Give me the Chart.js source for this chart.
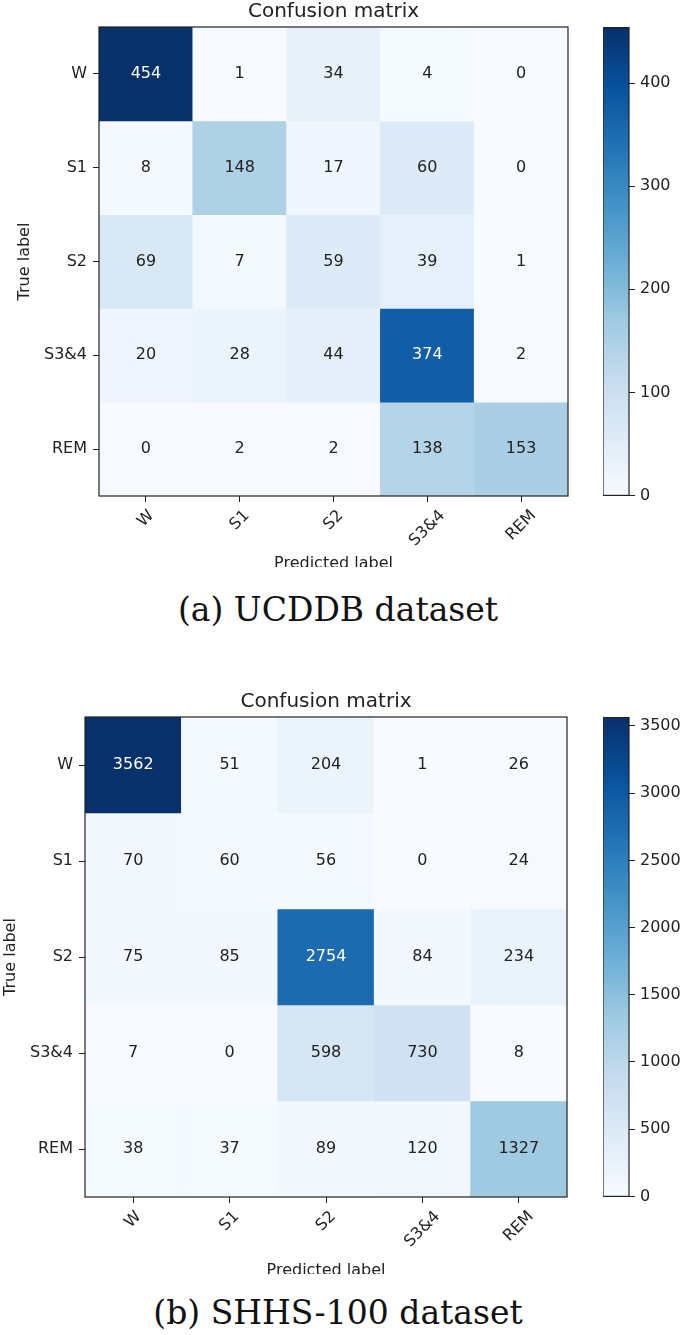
<!DOCTYPE html>
<html>
<head>
<meta charset="utf-8">
<title>Confusion matrices</title>
<script src="https://cdn.jsdelivr.net/npm/chart.js@4.4.1/dist/chart.umd.min.js"></script>
<style>
  body { margin: 0; background: #fff; width: 685px; height: 1335px; position: relative; overflow: hidden; }
  .wrap { position: absolute; overflow: hidden; }
  .bar { position: absolute; }
  canvas { display: block; }
  .cap { position: absolute; left: 0; width: 676px; text-align: center; font-family: 'DejaVu Serif'; font-size: 33px; line-height: 34px; color: #111; white-space: nowrap; }
</style>
</head>
<body>
<div class="wrap" style="left:0;top:0;width:600px;height:567px"><canvas id="cm1" width="600" height="600" style="width:600px;height:600px"></canvas></div>
<canvas class="bar" id="cb1" width="80" height="497" style="left:603px;top:13px;width:80px;height:497px"></canvas>
<div class="cap" style="top:593px">(a) UCDDB dataset</div>

<div class="wrap" style="left:0;top:690px;width:600px;height:584px"><canvas id="cm2" width="600" height="620" style="width:600px;height:620px"></canvas></div>
<canvas class="bar" id="cb2" width="80" height="508" style="left:603px;top:703px;width:80px;height:508px"></canvas>
<div class="cap" style="top:1296px">(b) SHHS-100 dataset</div>

<script>
// class names (rows = true label, columns = predicted label)
var rowLabels = ['W', 'S1', 'S2', 'S3&4', 'REM'];
var colLabels = ['W', 'S1', 'S2', 'S3&4', 'REM'];

// (a) UCDDB
var ucddbW   = [454, 1, 34, 4, 0];
var ucddbS1  = [8, 148, 17, 60, 0];
var ucddbS2  = [69, 7, 59, 39, 1];
var ucddbS34 = [20, 28, 44, 374, 2];
var ucddbREM = [0, 2, 2, 138, 153];
var ucddbTicks = [0, 100, 200, 300, 400];

// (b) SHHS-100
var shhsW   = [3562, 51, 204, 1, 26];
var shhsS1  = [70, 60, 56, 0, 24];
var shhsS2  = [75, 85, 2754, 84, 234];
var shhsS34 = [7, 0, 598, 730, 8];
var shhsREM = [38, 37, 89, 120, 1327];
var shhsTicks = [0, 500, 1000, 1500, 2000, 2500, 3000, 3500];

// matplotlib "Blues"
var blues = ['#f7fbff', '#deebf7', '#c6dbef', '#9ecae1', '#6baed6', '#4292c6', '#2171b5', '#08519c', '#08306b'];

var ink = '#222';
Chart.defaults.font.family = "'DejaVu Sans', sans-serif";
Chart.defaults.color = ink;

function hexRgb(h) {
  return [parseInt(h.substr(1, 2), 16), parseInt(h.substr(3, 2), 16), parseInt(h.substr(5, 2), 16)];
}

function bluesAt(t) {
  t = Math.max(0, Math.min(1, t));
  var p = t * 8;
  var i = Math.min(7, Math.floor(p));
  var f = p - i;
  var a = hexRgb(blues[i]), b = hexRgb(blues[i + 1]);
  var c = a.map(function(v, k) { return Math.round(v + (b[k] - v) * f); });
  return 'rgb(' + c.join(',') + ')';
}

// frame around the plot area (all four spines)
var framePlugin = {
  id: 'frame',
  afterDraw: function(chart) {
    var a = chart.chartArea, ctx = chart.ctx;
    ctx.save();
    ctx.strokeStyle = ink;
    ctx.lineWidth = 1.2;
    ctx.strokeRect(a.left, a.top, a.right - a.left, a.bottom - a.top);
    ctx.restore();
  }
};

function matrixChart(id, rows, o) {
  var max = 0;
  rows.forEach(function(r) { r.forEach(function(v) { if (v > max) max = v; }); });

  var datasets = rows.map(function(row, r) {
    return {
      data: row.map(function() { return [r - 0.5, r + 0.5]; }),
      counts: row,
      backgroundColor: row.map(function(v) { return bluesAt(v / max); }),
      grouped: false,
      barPercentage: 1,
      categoryPercentage: 1,
      borderWidth: 0
    };
  });

  // numbers inside cells + rotated x tick labels + title
  var cellPlugin = {
    id: 'cells',
    afterDatasetsDraw: function(chart) {
      var ctx = chart.ctx;
      ctx.save();
      ctx.font = "16px 'DejaVu Sans'";
      ctx.textAlign = 'center';
      ctx.textBaseline = 'middle';
      chart.data.datasets.forEach(function(ds, r) {
        chart.getDatasetMeta(r).data.forEach(function(el, c) {
          var v = ds.counts[c];
          ctx.fillStyle = v > max / 2 ? '#fff' : ink;
          ctx.fillText(String(v), el.x, (el.y + el.base) / 2);
        });
      });
      ctx.restore();
    },
    afterDraw: function(chart) {
      var ctx = chart.ctx, xs = chart.scales.x, a = chart.chartArea;
      ctx.save();
      ctx.font = "16px 'DejaVu Sans'";
      ctx.fillStyle = ink;
      ctx.textAlign = 'center';
      ctx.textBaseline = 'middle';
      colLabels.forEach(function(lab, i) {
        var x = xs.getPixelForTick(i);
        var w = ctx.measureText(lab).width;
        var cy = a.bottom + 12 + (w + 14.4) * Math.SQRT1_2 / 2;
        ctx.save();
        ctx.translate(x, cy);
        ctx.rotate(-Math.PI / 4);
        ctx.fillText(lab, 0, 0);
        ctx.restore();
      });
      ctx.font = "20px 'DejaVu Sans'";
      ctx.fillText('Confusion matrix', (a.left + a.right) / 2, o.titleY);
      ctx.restore();
    }
  };

  return new Chart(document.getElementById(id), {
    type: 'bar',
    data: { labels: colLabels, datasets: datasets },
    options: {
      responsive: false,
      animation: false,
      layout: { padding: { left: 0, right: o.right, top: o.top, bottom: 0 } },
      plugins: {
        legend: { display: false },
        tooltip: { enabled: false }
      },
      scales: {
        x: {
          type: 'category',
          offset: true,
          grid: { offset: false, drawOnChartArea: false, drawTicks: true, tickLength: 6, color: ink },
          border: { display: false },
          ticks: { display: false },
          title: { display: true, text: 'Predicted label', color: ink, font: { size: 16 }, padding: { top: 0, bottom: o.xTitlePad } },
          afterFit: function(s) { s.height = o.xHeight; }
        },
        y: {
          type: 'linear',
          min: -0.5,
          max: 4.5,
          reverse: true,
          afterBuildTicks: function(s) { s.ticks = rowLabels.map(function(_, i) { return { value: i }; }); },
          ticks: {
            padding: 6,
            autoSkip: false,
            color: ink,
            font: { size: 16 },
            callback: function(v) { return rowLabels[v]; }
          },
          grid: { drawOnChartArea: false, drawTicks: true, tickLength: 6, color: ink },
          border: { display: false },
          title: { display: true, text: 'True label', color: ink, font: { size: 16 }, padding: { top: o.yTitlePad, bottom: 0 } },
          afterFit: function(s) { s.width = o.yWidth; }
        }
      }
    },
    plugins: [cellPlugin, framePlugin]
  });
}

function colorBar(id, max, ticks) {
  return new Chart(document.getElementById(id), {
    type: 'bar',
    data: {
      labels: [''],
      datasets: [{
        data: [[0, max]],
        barPercentage: 1,
        categoryPercentage: 1,
        borderWidth: 0,
        backgroundColor: function(c) {
          var a = c.chart.chartArea;
          if (!a) return blues[0];
          var g = c.chart.ctx.createLinearGradient(0, a.bottom, 0, a.top);
          blues.forEach(function(col, i) { g.addColorStop(i / 8, col); });
          return g;
        }
      }]
    },
    options: {
      responsive: false,
      animation: false,
      layout: { padding: { top: 14, bottom: 14, left: 0, right: 0 } },
      plugins: { legend: { display: false }, tooltip: { enabled: false } },
      scales: {
        x: { display: false },
        y: {
          position: 'right',
          min: 0,
          max: max,
          afterBuildTicks: function(s) { s.ticks = ticks.map(function(v) { return { value: v }; }); },
          ticks: { padding: 5, color: ink, font: { size: 16 }, callback: function(v) { return String(v); } },
          grid: { drawOnChartArea: false, drawTicks: true, tickLength: 6, color: ink },
          border: { display: false },
          afterFit: function(s) { s.width = 54; }
        }
      }
    },
    plugins: [framePlugin]
  });
}

var ucddb = [ucddbW, ucddbS1, ucddbS2, ucddbS34, ucddbREM];
var shhs = [shhsW, shhsS1, shhsS2, shhsS34, shhsREM];

matrixChart('cm1', ucddb, { top: 27, right: 32, yWidth: 99, xHeight: 104, xTitlePad: 26.4, yTitlePad: 15.4, titleY: 12 });
colorBar('cb1', 454, ucddbTicks);

matrixChart('cm2', shhs, { top: 27, right: 33, yWidth: 85, xHeight: 113, xTitlePad: 29.4, yTitlePad: 1.4, titleY: 12 });
colorBar('cb2', 3562, shhsTicks);
</script>
</body>
</html>
